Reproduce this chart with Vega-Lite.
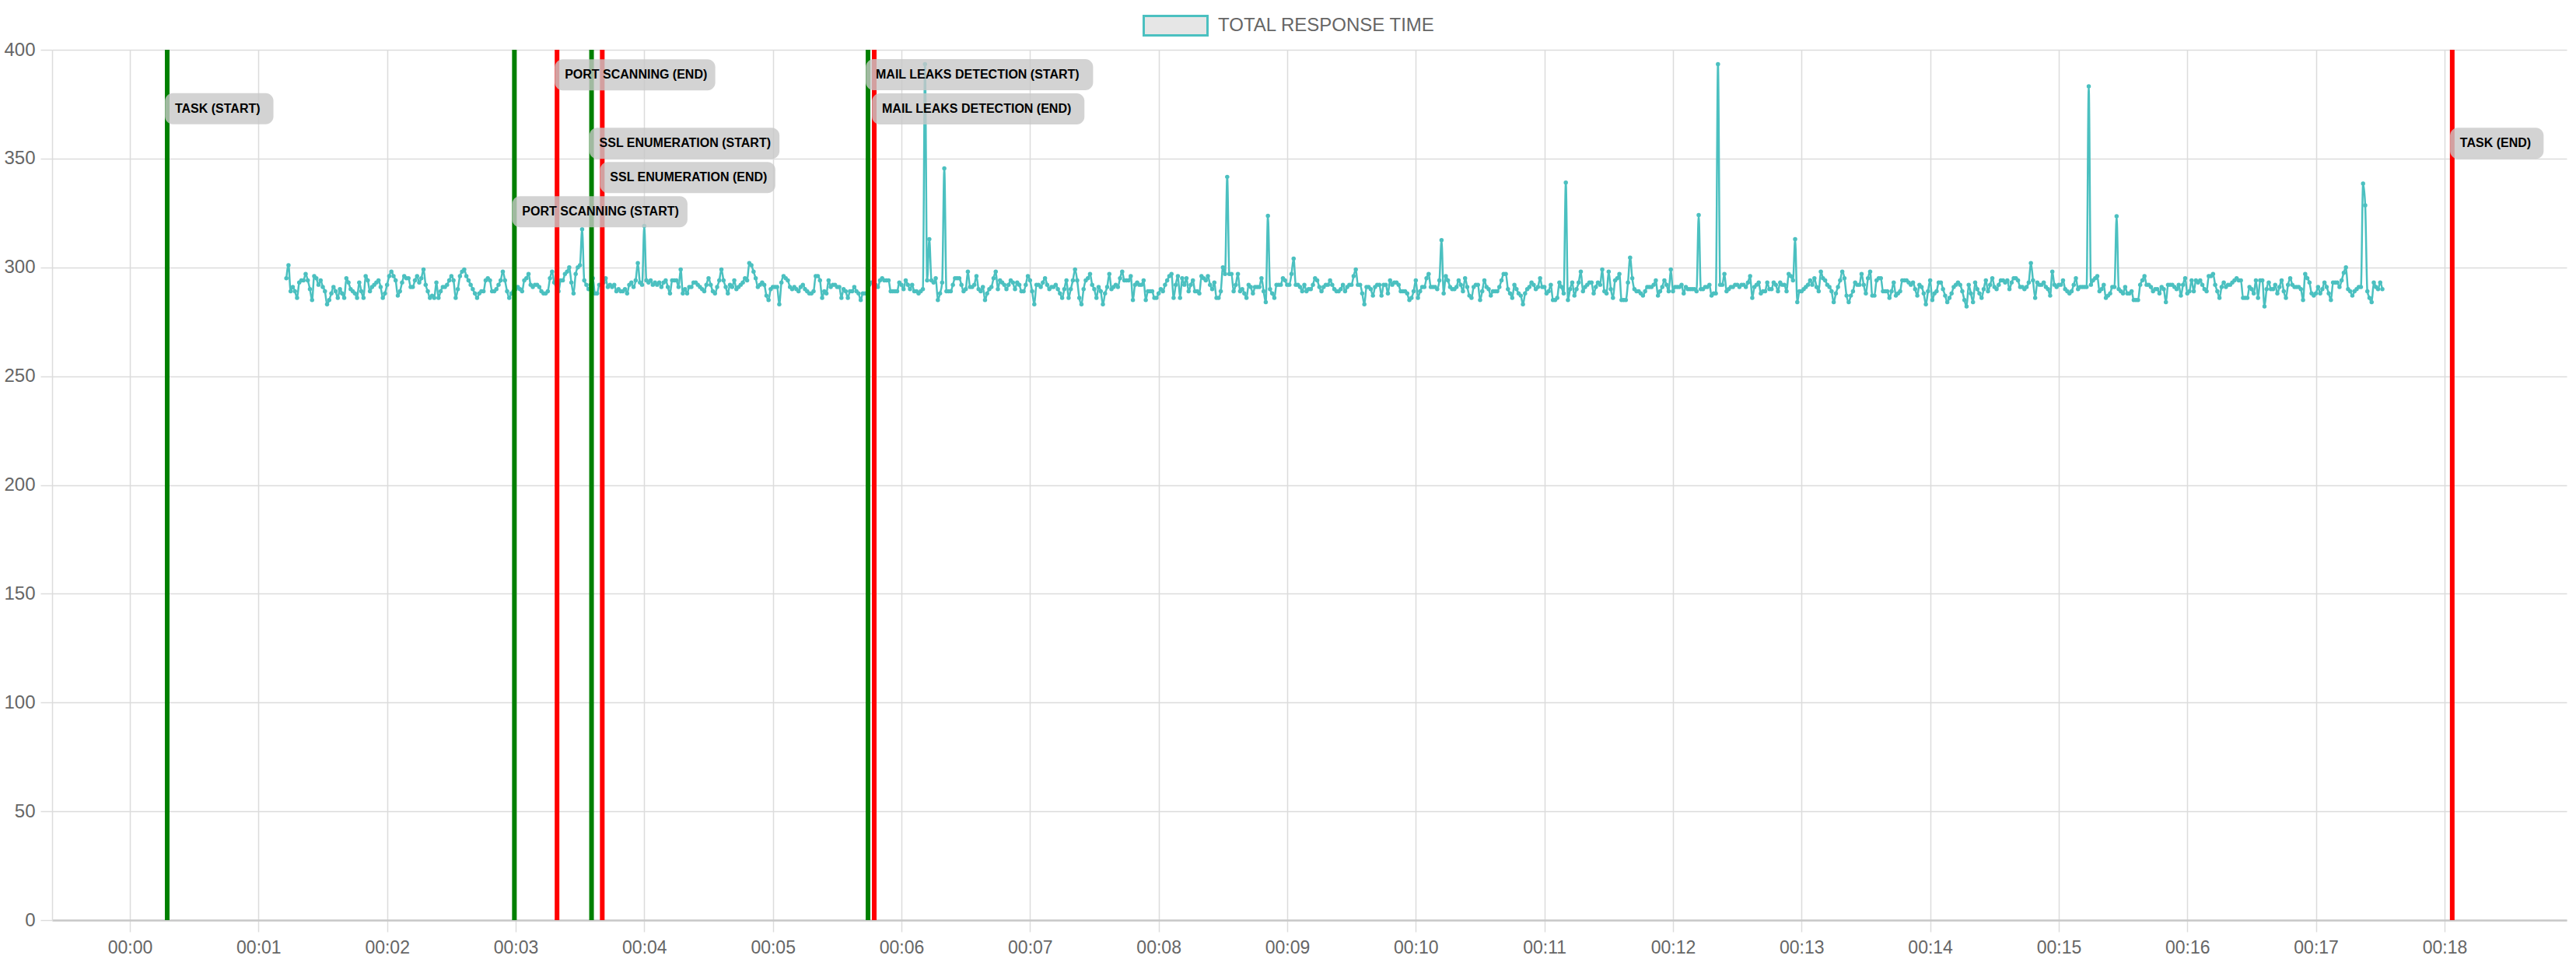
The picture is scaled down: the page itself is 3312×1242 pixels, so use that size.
{
  "$schema": "https://vega.github.io/schema/vega-lite/v6.json",
  "width": 3233,
  "height": 1119,
  "autosize": {"type": "none"},
  "padding": {"left": 67, "top": 64, "right": 12, "bottom": 59},
  "background": "white",
  "config": {
    "view": {"stroke": null},
    "font": "Liberation Sans"
  },
  "datasets": {
    "events": [
      {"t": 17.4, "label": "TASK (START)", "kind": "start", "ly": 372.9},
      {"t": 179.4, "label": "PORT SCANNING (START)", "kind": "start", "ly": 325.6},
      {"t": 199.3, "label": "PORT SCANNING (END)", "kind": "end", "ly": 388.5},
      {"t": 215.4, "label": "SSL ENUMERATION (START)", "kind": "start", "ly": 357.0},
      {"t": 220.4, "label": "SSL ENUMERATION (END)", "kind": "end", "ly": 341.3},
      {"t": 344.4, "label": "MAIL LEAKS DETECTION (START)", "kind": "start", "ly": 388.6},
      {"t": 347.3, "label": "MAIL LEAKS DETECTION (END)", "kind": "end", "ly": 372.8},
      {"t": 1083.6, "label": "TASK (END)", "kind": "end", "ly": 357.0}
    ]
  },
  "layer": [
    {
      "data": {
        "values": "t,v\n73,295\n74,301\n75,289\n76,291\n77,289\n78,286\n79,293\n80,294\n81,294\n82,297\n83,294\n84,290\n85,285\n86,296\n87,295\n88,292\n89,294\n90,291\n91,289\n92,283\n93,285\n94,288\n95,291\n96,289\n97,286\n98,290\n99,288\n100,286\n101,295\n102,293\n103,290\n104,289\n105,288\n106,286\n107,293\n108,289\n109,286\n110,296\n111,294\n112,289\n113,291\n114,292\n115,293\n116,294\n117,291\n118,286\n119,288\n120,292\n121,296\n122,298\n123,296\n124,294\n125,287\n126,289\n127,293\n128,296\n129,295\n130,295\n131,291\n132,291\n133,294\n134,296\n135,293\n136,295\n137,299\n138,292\n139,289\n140,286\n141,287\n142,286\n143,293\n144,286\n145,289\n146,291\n147,291\n148,292\n149,294\n150,296\n151,294\n152,286\n153,290\n154,296\n155,298\n156,299\n157,296\n158,294\n159,292\n160,290\n161,288\n162,286\n163,288\n164,289\n165,289\n166,294\n167,295\n168,294\n169,289\n170,289\n171,290\n172,292\n173,294\n174,298\n175,294\n176,289\n177,286\n178,288\n179,289\n180,290\n181,291\n182,290\n183,289\n184,294\n185,295\n186,297\n187,292\n188,291\n189,292\n190,292\n191,291\n192,289\n193,288\n194,288\n195,289\n196,295\n197,298\n198,293\n199,292\n200,289\n201,294\n202,294\n203,297\n204,298\n205,300\n206,293\n207,288\n208,297\n209,300\n210,301\n211,317.5\n212,294\n213,292\n214,290\n215,292\n216,295\n217,288\n218,288\n219,292\n220,292\n221,293\n222,295\n223,291\n224,292\n225,291\n226,292\n227,289\n228,290\n229,289\n230,289\n231,290\n232,288\n233,292\n234,293\n235,291\n236,294\n237,302\n238,293\n239,292\n240,319\n241,294\n242,293\n243,294\n244,292\n245,293\n246,292\n247,293\n248,291\n249,293\n250,294\n251,291\n252,288\n253,294\n254,294\n255,294\n256,291\n257,299\n258,288\n259,290\n260,288\n261,291\n262,291\n263,293\n264,293\n265,292\n266,291\n267,290\n268,289\n269,292\n270,295\n271,292\n272,289\n273,288\n274,291\n275,294\n276,299\n277,294\n278,291\n279,288\n280,292\n281,291\n282,294\n283,290\n284,291\n285,292\n286,293\n287,295\n288,294\n289,302\n290,301\n291,298\n292,295\n293,291\n294,292\n295,293\n296,292\n297,287\n298,285\n299,290\n300,291\n301,291\n302,291\n303,283\n304,293\n305,296\n306,295\n307,294\n308,291\n309,290\n310,291\n311,290\n312,289\n313,291\n314,292\n315,290\n316,289\n317,288\n318,288\n319,289\n320,296\n321,296\n322,294\n323,286\n324,289\n325,288\n326,294\n327,291\n328,292\n329,292\n330,291\n331,291\n332,286\n333,290\n334,289\n335,286\n336,289\n337,289\n338,291\n339,289\n340,288\n341,285\n342,288\n343,288\n344,288\n345,292\n346,293\n347,293\n348,292\n349,291\n350,294\n351,295\n352,294\n353,294\n354,294\n355,289\n356,289\n357,289\n358,289\n359,293\n360,292\n361,290\n362,294\n363,292\n364,290\n365,292\n366,289\n367,289\n368,288\n369,289\n370,290\n371,393.4\n372,294\n373,313\n374,294\n375,293\n376,295\n377,285\n378,288\n379,293\n380,345.5\n381,289\n382,289\n383,289\n384,292\n385,295\n386,295\n387,295\n388,292\n389,289\n390,290\n391,298\n392,291\n393,291\n394,292\n395,296\n396,290\n397,289\n398,291\n399,285\n400,288\n401,290\n402,291\n403,295\n404,298\n405,290\n406,294\n407,293\n408,292\n409,290\n410,292\n411,294\n412,293\n413,290\n414,293\n415,292\n416,289\n417,289\n418,292\n419,296\n420,294\n421,289\n422,283\n423,292\n424,292\n425,291\n426,293\n427,295\n428,292\n429,290\n430,291\n431,291\n432,292\n433,290\n434,288\n435,286\n436,290\n437,294\n438,286\n439,290\n440,294\n441,299\n442,294\n443,286\n444,283\n445,290\n446,294\n447,295\n448,297\n449,292\n450,290\n451,286\n452,291\n453,289\n454,283\n455,288\n456,291\n457,297\n458,290\n459,291\n460,292\n461,291\n462,295\n463,298\n464,294\n465,294\n466,294\n467,296\n468,285\n469,292\n470,293\n471,292\n472,292\n473,294\n474,285\n475,289\n476,289\n477,289\n478,286\n479,286\n480,288\n481,290\n482,289\n483,292\n484,294\n485,296\n486,297\n487,286\n488,292\n489,296\n490,286\n491,295\n492,292\n493,295\n494,289\n495,292\n496,294\n497,289\n498,289\n499,288\n500,296\n501,295\n502,294\n503,296\n504,292\n505,290\n506,293\n507,286\n508,286\n509,289\n510,300\n511,297\n512,341.6\n513,297\n514,297\n515,289\n516,292\n517,297\n518,289\n519,290\n520,288\n521,286\n522,292\n523,291\n524,288\n525,291\n526,291\n527,291\n528,295\n529,289\n530,284\n531,323.7\n532,290\n533,288\n534,286\n535,292\n536,292\n537,292\n538,295\n539,294\n540,292\n541,292\n542,297\n543,304\n544,292\n545,292\n546,291\n547,289\n548,292\n549,289\n550,290\n551,290\n552,292\n553,295\n554,294\n555,291\n556,289\n557,291\n558,292\n559,292\n560,294\n561,292\n562,290\n563,289\n564,289\n565,290\n566,292\n567,289\n568,291\n569,292\n570,292\n571,296\n572,299\n573,292\n574,292\n575,288\n576,283\n577,291\n578,291\n579,290\n580,287\n581,291\n582,292\n583,292\n584,287\n585,292\n586,292\n587,288\n588,294\n589,292\n590,293\n591,293\n592,292\n593,289\n594,289\n595,289\n596,288\n597,285\n598,286\n599,289\n600,294\n601,286\n602,289\n603,291\n604,291\n605,295\n606,297\n607,291\n608,291\n609,291\n610,290\n611,294\n612,312.5\n613,288\n614,296\n615,294\n616,291\n617,290\n618,290\n619,291\n620,294\n621,292\n622,289\n623,295\n624,291\n625,287\n626,286\n627,291\n628,292\n629,292\n630,285\n631,289\n632,294\n633,291\n634,290\n635,287\n636,289\n637,289\n638,289\n639,291\n640,294\n641,297\n642,297\n643,290\n644,288\n645,286\n646,292\n647,290\n648,288\n649,287\n650,283\n651,288\n652,290\n653,291\n654,293\n655,292\n656,290\n657,291\n658,295\n659,291\n660,291\n661,288\n662,289\n663,292\n664,285\n665,285\n666,286\n667,293\n668,291\n669,288\n670,339\n671,285\n672,290\n673,293\n674,287\n675,290\n676,293\n677,298\n678,289\n679,291\n680,292\n681,293\n682,293\n683,288\n684,291\n685,293\n686,292\n687,299\n688,289\n689,288\n690,298\n691,290\n692,286\n693,294\n694,295\n695,297\n696,285\n697,285\n698,285\n699,293\n700,304.5\n701,295\n702,290\n703,289\n704,289\n705,288\n706,287\n707,289\n708,291\n709,291\n710,291\n711,292\n712,294\n713,287\n714,289\n715,291\n716,294\n717,292\n718,289\n719,299\n720,289\n721,291\n722,291\n723,291\n724,292\n725,288\n726,291\n727,290\n728,290\n729,290\n730,290\n731,289\n732,324\n733,290\n734,290\n735,291\n736,291\n737,292\n738,287\n739,288\n740,288\n741,393.4\n742,292\n743,292\n744,297\n745,289\n746,290\n747,291\n748,291\n749,292\n750,292\n751,291\n752,292\n753,292\n754,291\n755,293\n756,296\n757,286\n758,291\n759,292\n760,293\n761,288\n762,289\n763,289\n764,293\n765,290\n766,290\n767,293\n768,292\n769,289\n770,293\n771,292\n772,292\n773,289\n774,297\n775,296\n776,294\n777,313\n778,284\n779,289\n780,289\n781,290\n782,291\n783,292\n784,294\n785,292\n786,295\n787,291\n788,289\n789,298\n790,295\n791,294\n792,292\n793,291\n794,289\n795,284\n796,288\n797,291\n798,294\n799,298\n800,295\n801,287\n802,284\n803,287\n804,289\n805,293\n806,292\n807,292\n808,297\n809,292\n810,288\n811,295\n812,298\n813,287\n814,287\n815,294\n816,295\n817,295\n818,289\n819,289\n820,289\n821,286\n822,289\n823,293\n824,287\n825,288\n826,289\n827,294\n828,294\n829,294\n830,293\n831,292\n832,293\n833,290\n834,287\n835,292\n836,291\n837,288\n838,283\n839,289\n840,294\n841,285\n842,288\n843,289\n844,293\n845,293\n846,290\n847,287\n848,284\n849,286\n850,288\n851,291\n852,292\n853,293\n854,292\n855,289\n856,285\n857,282\n858,292\n859,288\n860,284\n861,293\n862,290\n863,288\n864,286\n865,290\n866,294\n867,289\n868,292\n869,295\n870,291\n871,290\n872,292\n873,294\n874,294\n875,293\n876,294\n877,290\n878,293\n879,295\n880,295\n881,294\n882,291\n883,291\n884,290\n885,291\n886,293\n887,302\n888,294\n889,286\n890,293\n891,292\n892,292\n893,293\n894,291\n895,290\n896,287\n897,298\n898,292\n899,291\n900,292\n901,292\n902,294\n903,290\n904,289\n905,288\n906,289\n907,292\n908,295\n909,290\n910,291\n911,291\n912,291\n913,291\n914,383.2\n915,292\n916,294\n917,295\n918,296\n919,289\n920,290\n921,292\n922,286\n923,287\n924,288\n925,291\n926,291\n927,323.5\n928,290\n929,289\n930,288\n931,291\n932,288\n933,288\n934,289\n935,285\n936,285\n937,285\n938,292\n939,294\n940,296\n941,292\n942,292\n943,291\n944,289\n945,290\n946,290\n947,288\n948,291\n949,290\n950,284\n951,292\n952,292\n953,292\n954,291\n955,290\n956,292\n957,287\n958,292\n959,295\n960,288\n961,289\n962,294\n963,289\n964,294\n965,293\n966,294\n967,292\n968,290\n969,289\n970,296\n971,296\n972,297\n973,292\n974,289\n975,286\n976,291\n977,293\n978,291\n979,292\n980,292\n981,293\n982,294\n983,295\n984,294\n985,294\n986,286\n987,286\n988,286\n989,291\n990,290\n991,288\n992,294\n993,286\n994,294\n995,294\n996,282\n997,290\n998,293\n999,290\n1000,290\n1001,292\n1002,288\n1003,291\n1004,294\n1005,289\n1006,286\n1007,292\n1008,295\n1009,292\n1010,291\n1011,291\n1012,291\n1013,290\n1014,285\n1015,297\n1016,295\n1017,293\n1018,288\n1019,287\n1020,288\n1021,291\n1022,288\n1023,290\n1024,293\n1025,291\n1026,288\n1027,285\n1028,293\n1029,293\n1030,293\n1031,291\n1032,294\n1033,297.5\n1034,300\n1035,290\n1036,289\n1037,287\n1038,289\n1039,290\n1040,291\n1041,291\n1042,338.5\n1043,328.5\n1044,289\n1045,286\n1046,284\n1047,293\n1048,291\n1049,290\n1050,293\n1051,290",
        "format": {"type": "csv", "parse": {"t": "number", "v": "number"}}
      },
      "encoding": {
        "x": {
          "field": "t", "type": "quantitative",
          "scale": {"domain": [-36.3, 1137], "nice": false, "zero": false},
          "axis": {
            "title": null,
            "values": [0, 60, 120, 180, 240, 300, 360, 420, 480, 540, 600, 660, 720, 780, 840, 900, 960, 1020, 1080],
            "labelExpr": "'00:' + (datum.value < 600 ? '0' : '') + (datum.value / 60)",
            "grid": true, "gridColor": "#dcdcdc", "gridWidth": 1.5,
            "tickColor": "#dcdcdc", "tickSize": 15, "tickWidth": 1.5,
            "labelFont": "Liberation Sans", "labelFontSize": 23, "labelColor": "#666666", "labelPadding": 9,
            "domainColor": "#c8c8c8", "domainWidth": 2.5
          }
        },
        "y": {
          "field": "v", "type": "quantitative",
          "scale": {"domain": [0, 400], "nice": false},
          "axis": {
            "title": null,
            "values": [0, 50, 100, 150, 200, 250, 300, 350, 400],
            "grid": true, "gridColor": "#dcdcdc", "gridWidth": 1.5,
            "tickColor": "#dcdcdc", "tickSize": 15, "tickWidth": 1.5,
            "labelFont": "Liberation Sans", "labelFontSize": 24, "labelColor": "#666666", "labelPadding": 7,
            "domainColor": "#dcdcdc", "domainWidth": 1.5
          }
        }
      },
      "layer": [
        {
          "mark": {"type": "line", "strokeWidth": 2.5, "interpolate": "monotone"},
          "encoding": {
            "color": {
              "datum": "TOTAL RESPONSE TIME", "type": "nominal",
              "scale": {"range": ["#4bc0c0"]},
              "legend": {
                "orient": "none", "legendX": 1402, "legendY": -73.5,
                "title": null, "padding": 0, "labelLimit": 0,
                "symbolType": "M-1,-0.305H1V0.305H-1Z", "symbolSize": 6724,
                "symbolStrokeWidth": 3, "symbolFillColor": "#e6e6e6", "symbolOpacity": 1,
                "labelFont": "Liberation Sans", "labelFontSize": 24, "labelColor": "#666666", "labelOffset": 12
              }
            }
          }
        },
        {
          "mark": {"type": "point", "filled": true, "size": 30, "color": "#4bc0c0", "opacity": 1}
        }
      ]
    },
    {
      "data": {"name": "events"},
      "transform": [{"filter": "datum.kind === 'start'"}],
      "mark": {"type": "rule", "color": "#008000", "strokeWidth": 6},
      "encoding": {"x": {"field": "t", "type": "quantitative"}}
    },
    {
      "data": {"name": "events"},
      "transform": [{"filter": "datum.kind === 'end'"}],
      "mark": {"type": "rule", "color": "#ff0000", "strokeWidth": 6},
      "encoding": {"x": {"field": "t", "type": "quantitative"}}
    },
    {
      "data": {"name": "events"},
      "transform": [
        {"calculate": "datum.t - 1", "as": "x0"},
        {"calculate": "datum.t + (length(datum.label) * 9.55 + 22) / 2.7556", "as": "x1"},
        {"calculate": "datum.ly - 7.15", "as": "y0"},
        {"calculate": "datum.ly + 7.15", "as": "y1"}
      ],
      "mark": {"type": "rect", "fill": "#c8c8c8", "fillOpacity": 0.8, "cornerRadius": 10},
      "encoding": {
        "x": {"field": "x0", "type": "quantitative"},
        "x2": {"field": "x1"},
        "y": {"field": "y0", "type": "quantitative"},
        "y2": {"field": "y1"}
      }
    },
    {
      "data": {"name": "events"},
      "mark": {"type": "text", "align": "left", "baseline": "middle", "dx": 10, "font": "Liberation Sans", "fontSize": 16, "fontWeight": "bold", "color": "#000000"},
      "encoding": {
        "x": {"field": "t", "type": "quantitative"},
        "y": {"field": "ly", "type": "quantitative"},
        "text": {"field": "label"}
      }
    }
  ]
}
